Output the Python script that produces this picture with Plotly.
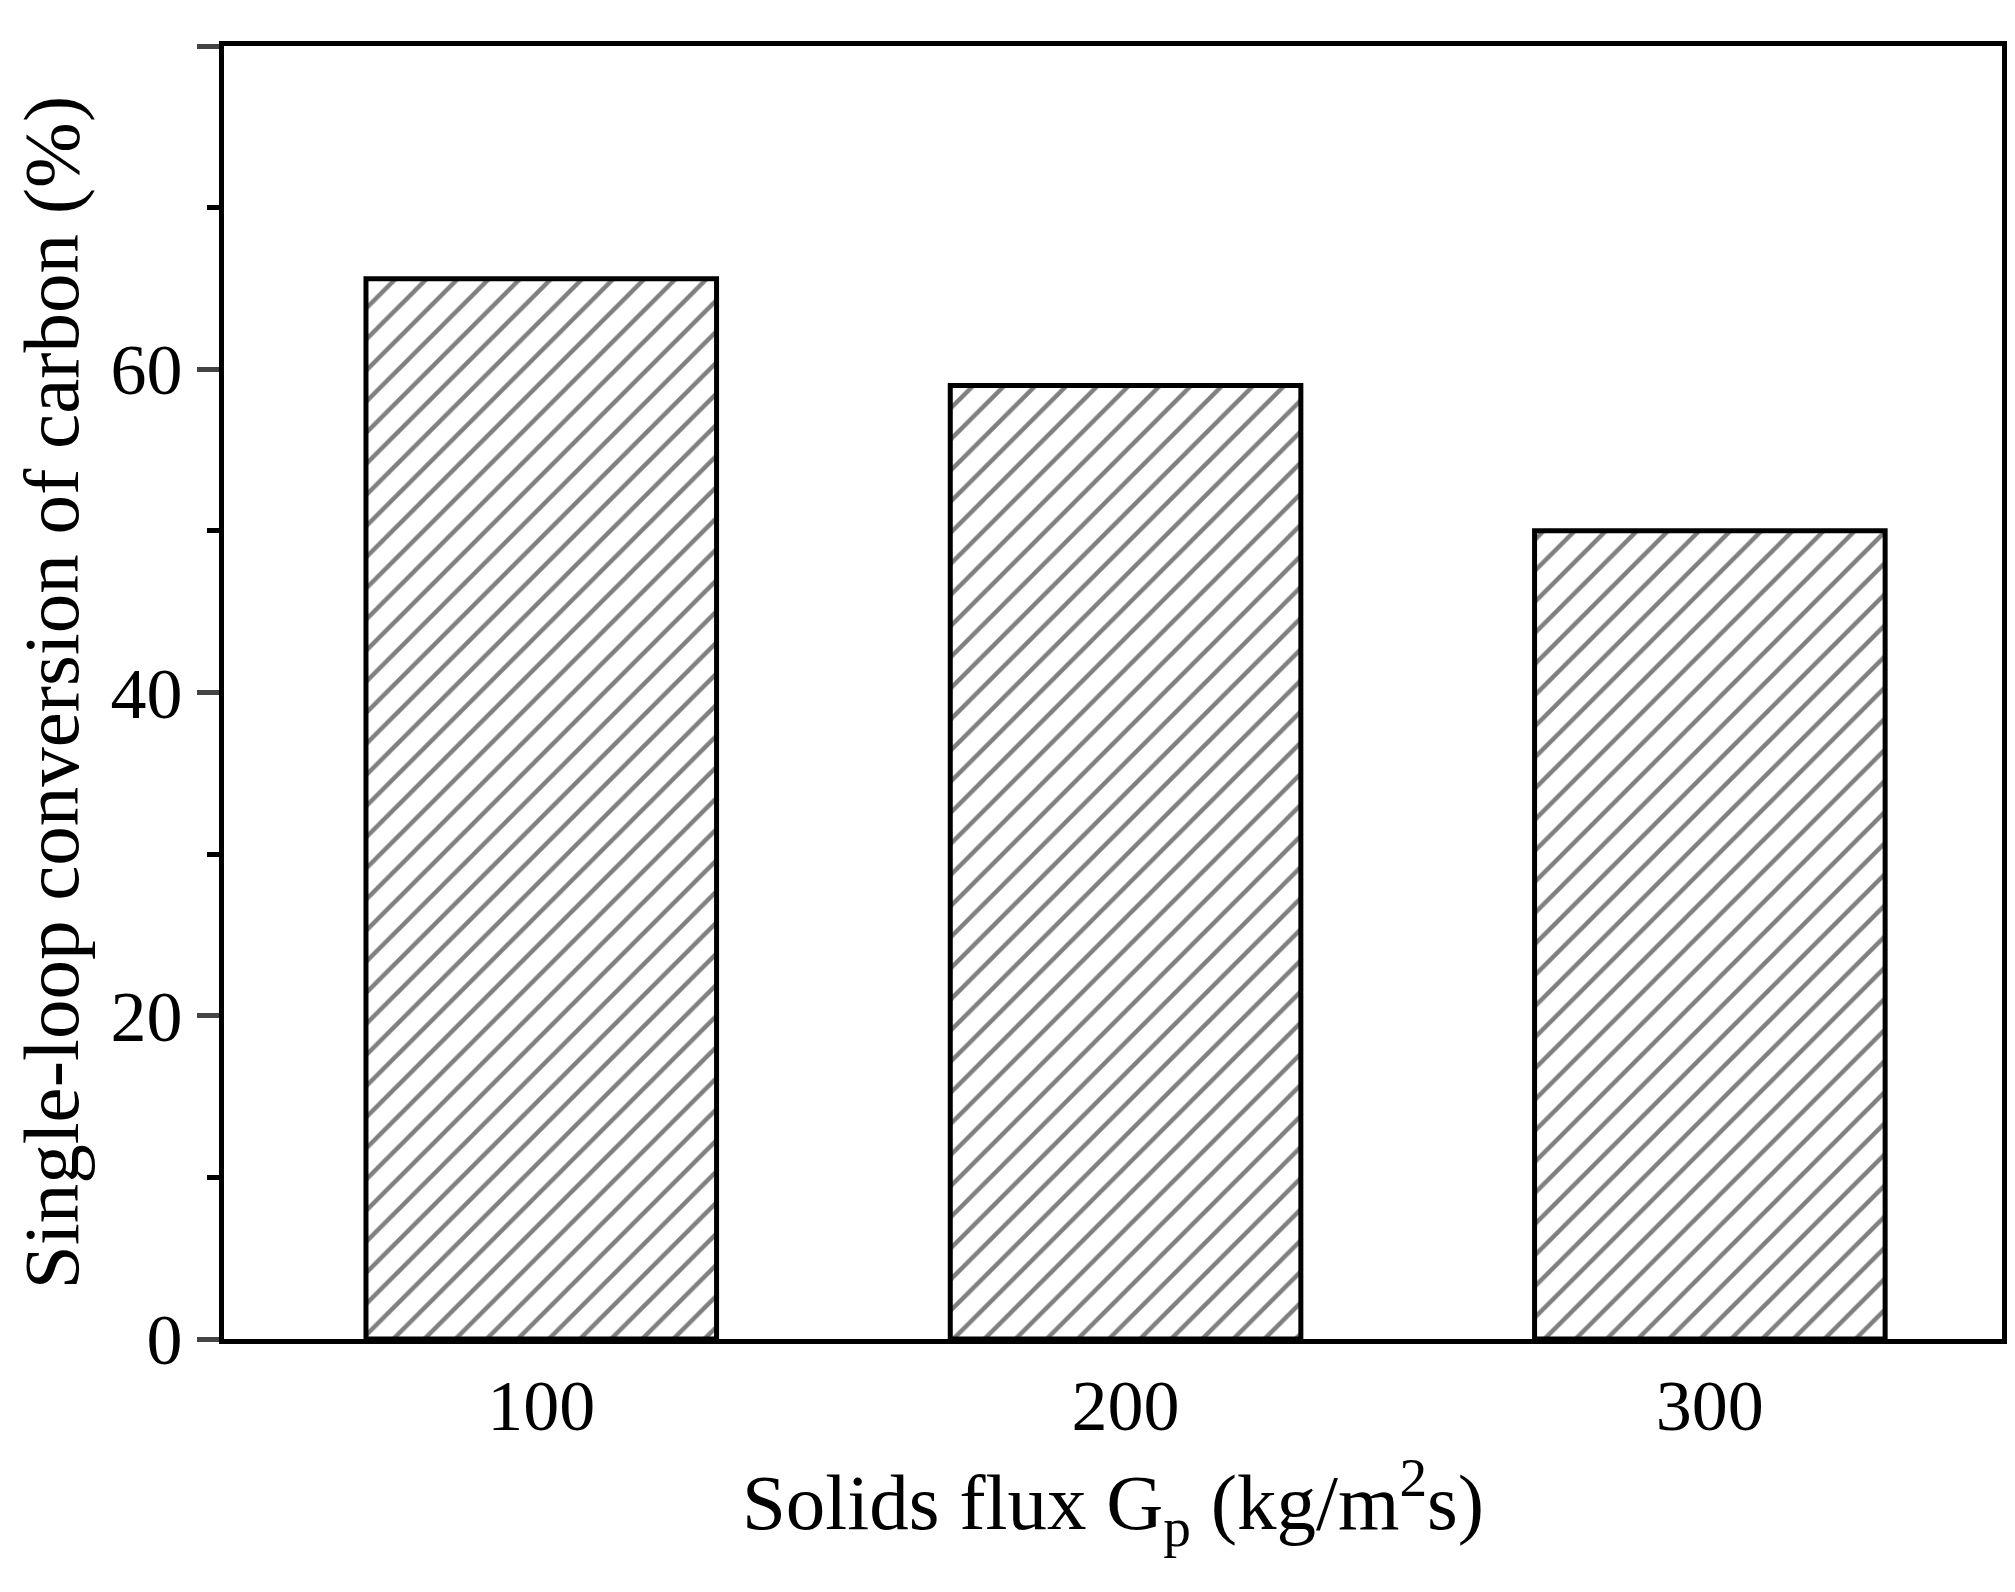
import plotly.graph_objects as go

flux = [100, 200, 300]
conversion = [65.6, 59.0, 50.0]

fig = go.Figure()
fig.add_trace(go.Bar(
    x=flux, y=conversion, width=60,
    marker=dict(color='white', line=dict(color='black', width=5),
                pattern=dict(shape='/', fgcolor='black', bgcolor='white', size=22, solidity=0.2)),
))

font = dict(family='Liberation Serif', color='black')
fig.update_layout(
    width=2015, height=1592,
    plot_bgcolor='white', paper_bgcolor='white',
    margin=dict(l=216, r=21, t=38, b=261),
    showlegend=False,
    font=font,
)
fig.update_xaxes(
    range=[45.7, 350], tickvals=flux, ticktext=[str(v) for v in flux],
    showline=True, linecolor='black', linewidth=5, mirror=True,
    showgrid=False, zeroline=False, ticks='', tickfont=dict(size=72),
    title=dict(text='Solids flux G<sub>p</sub> (kg/m<sup>2</sup>s)', font=dict(size=79), standoff=30),
)
fig.update_yaxes(
    range=[0, 80], dtick=20, tick0=0,
    showline=True, linecolor='black', linewidth=5, mirror=True,
    showgrid=False, zeroline=False, ticks='outside', ticklen=22, tickwidth=5,
    minor=dict(dtick=10, ticks='outside', ticklen=12, tickwidth=5, tickcolor='black'),
    tickfont=dict(size=72),
    title=dict(text='Single-loop conversion of carbon (%)', font=dict(size=79), standoff=12),
)
fig.write_html('out.html')
